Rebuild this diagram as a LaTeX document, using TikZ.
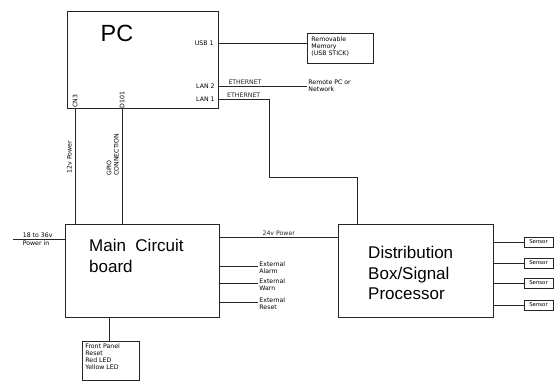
\documentclass[tikz,border=0pt]{standalone}
\usepackage{fontspec}
\setmainfont{Liberation Sans}
\newfontfamily\labelfont{DejaVu Sans}
\usetikzlibrary{positioning,calc}
\tikzset{
    block/.style={rectangle, draw=black!85, line width=0.75pt, inner sep=0pt},
    wire/.style={line width=0.75pt, black!85},
    tinytext/.style={font=\labelfont\fontsize{5.3}{6}\selectfont, inner sep=1pt, align=left},
    bigtext/.style={font=\fontsize{14.5}{17.5}\selectfont, align=left, inner sep=0pt},
    sensorbox/.style={block, line width=0.6pt, minimum width=0.87cm, minimum height=0.3cm, font=\labelfont\fontsize{4.6}{5}\selectfont},
}

\begin{document}
\begin{tikzpicture}[x=0.03cm, y=-0.03cm]
    \useasboundingbox (0,0) rectangle (554,381);
    % boxes
    \node[block, minimum width=4.53cm, minimum height=2.91cm] (pc) at (142.5,59.5) {};
    \node[font=\fontsize{20}{20}\selectfont, inner sep=0pt] (pctitle) at (117,33) {PC};
    \node[block, minimum width=1.98cm, minimum height=0.9cm] (usb) at (340,48) {};
    \node[tinytext, anchor=north west] (usbtext) at (310,35) {Removable\\Memory\\(USB STICK)};
    \node[block, minimum width=4.62cm, minimum height=2.79cm] (main) at (142,270.5) {};
    \node[bigtext, anchor=west] (maintext) at (89,256) {Main\ \ Circuit\\board};
    \node[block, minimum width=4.65cm, minimum height=2.79cm] (dist) at (415.5,270.5) {};
    \node[bigtext, anchor=west] (disttext) at (368,273) {Distribution\\Box/Signal\\Processor};
    \node[block, minimum width=1.71cm, minimum height=1.17cm] (panel) at (110.5,360.5) {};
    \node[tinytext, anchor=north west] (paneltext) at (84,342) {Front Panel\\Reset\\Red LED\\Yellow LED};
    \node[sensorbox] (sensor1) at (538.5,242) {Sensor};
    \node[sensorbox] (sensor2) at (538.5,263) {Sensor};
    \node[sensorbox] (sensor3) at (538.5,283) {Sensor};
    \node[sensorbox] (sensor4) at (538.5,305) {Sensor};

    % port labels on the PC
    \node[tinytext, anchor=east] (usbport) at (215,43) {USB 1};
    \node[tinytext, anchor=east] (lanb) at (216,86) {LAN 2};
    \node[tinytext, anchor=east] (lana) at (216,99) {LAN 1};
    \node[tinytext, rotate=90] (cn3) at (75,101) {CN3};
    \node[tinytext, rotate=90] (dio) at (122,100) {D101};

    % PC links
    \draw[wire] (usbport.east -| pc.east) -- (usbport.east -| usb.west);
    \node[tinytext, anchor=west] (remote) at (307,86) {Remote PC or\\Network};
    \draw[wire] (lanb.east -| pc.east) -- (remote.west)
        node[tinytext, pos=0.3, above, inner sep=0.5pt] {ETHERNET};
    \coordinate (bend) at (269,177);
    \coordinate (distin) at (357,224);
    \draw[wire] (lana.east -| pc.east) -- (lana.east -| bend)
        node[tinytext, midway, above, inner sep=0.5pt] {ETHERNET} -- (bend) -| (distin);
    \draw[wire] (cn3 |- pc.south) -- (cn3 |- main.north);
    \draw[wire] (dio |- pc.south) -- (dio |- main.north);
    \node[tinytext, rotate=90, anchor=south] (vpwr) at (73,157) {12v Power};
    \node[tinytext, rotate=90, anchor=south west] (gpio) at (120,177) {GPIO\\CONNECTION};

    % main board links
    \coordinate (pwrin) at (13,239);
    \draw[wire] (pwrin) -- (pwrin -| main.west);
    \node[tinytext, anchor=south west, inner sep=0.5pt] (pwrtop) at (22,238.5) {18 to 36v};
    \node[tinytext, anchor=north west, inner sep=0.5pt] (pwrbot) at (22,239.5) {Power in};
    \coordinate (p24) at (338,237);
    \draw[wire] (p24 -| main.east) -- (p24) node[tinytext, midway, above, inner sep=0.5pt] {24v Power};
    \node[tinytext, anchor=west] (alarm) at (258,268) {External\\Alarm};
    \node[tinytext, anchor=west] (warn) at (258,285) {External\\Warn};
    \node[tinytext, anchor=west] (reset) at (258,304) {External\\Reset};
    \draw[wire] (main.east |- 0,266) -- (alarm.west |- 0,266);
    \draw[wire] (main.east |- 0,283) -- (warn.west |- 0,283);
    \draw[wire] (main.east |- 0,302) -- (reset.west |- 0,302);
    \draw[wire] (panel.north -| 109,0) -- (main.south -| 109,0);

    % sensors
    \draw[wire] (sensor1.west -| dist.east) -- (sensor1.west);
    \draw[wire] (sensor2.west -| dist.east) -- (sensor2.west);
    \draw[wire] (sensor3.west -| dist.east) -- (sensor3.west);
    \draw[wire] (sensor4.west -| dist.east) -- (sensor4.west);
\end{tikzpicture}
\end{document}
